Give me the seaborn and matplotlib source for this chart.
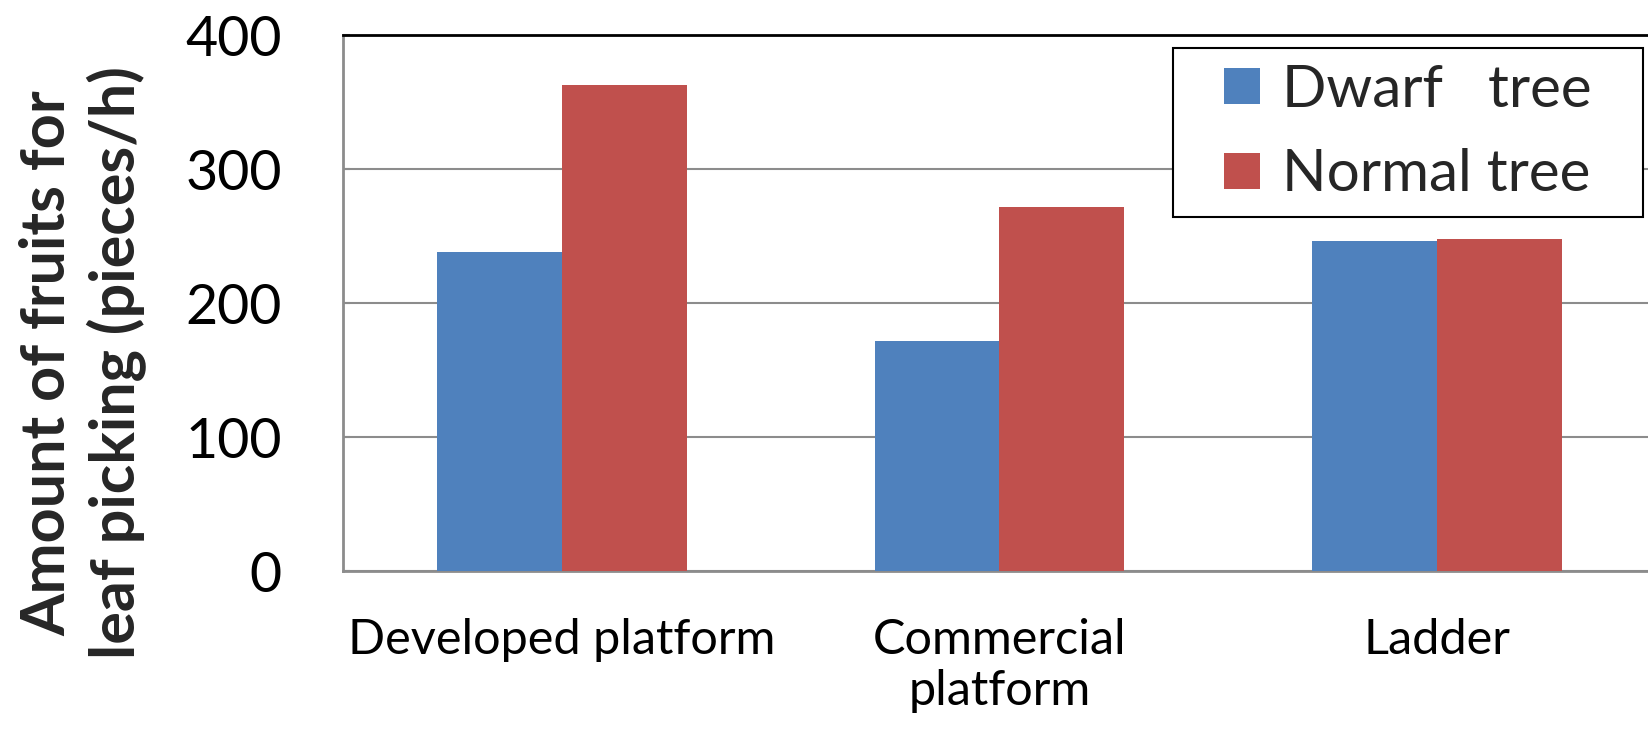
import matplotlib
matplotlib.use("Agg")
import matplotlib.pyplot as plt
from matplotlib.lines import Line2D
import seaborn as sns
import pandas as pd

# Picking rate by working method and tree type
categories = ["Developed platform", "Commercial\nplatform", "Ladder"]
series_names = ["Dwarf   tree", "Normal tree"]
dwarf_values = [238, 172, 246]
normal_values = [363, 272, 248]
y_ticks = [0, 100, 200, 300, 400]
y_label = "Amount of fruits for\nleaf picking (pieces/h)"

colors = ["#4F81BD", "#C0504D"]
grid_color = "#8C8C8C"

df = pd.DataFrame({
    "category": categories * 2,
    "tree": [series_names[0]] * 3 + [series_names[1]] * 3,
    "value": dwarf_values + normal_values,
})

sns.set_theme(style="white")
plt.rcParams["font.family"] = ["Lato", "DejaVu Sans"]

fig = plt.figure(figsize=(16.49, 7.29), dpi=100)
ax = fig.add_axes([0.208, 0.2167, 0.7962, 0.7352])

sns.barplot(data=df, x="category", y="value", hue="tree", order=categories,
            hue_order=series_names, palette=colors, width=0.571, gap=0,
            saturation=1, linewidth=0, ax=ax, zorder=3, legend=False)

ax.set_xlim(-0.5, 2.5)
ax.set_ylim(0, 400)
ax.set_yticks(y_ticks)
ax.set_yticklabels([str(v) for v in y_ticks])
ax.set_xlabel("")
ax.set_ylabel("")

# horizontal gridlines
ax.yaxis.grid(True, color=grid_color, linewidth=1.5, zorder=0)
ax.set_axisbelow(True)

# category boundary ticks on the x axis
ax.set_xticks([0, 1, 2])
ax.set_xticklabels(categories, fontsize=35, color="black", linespacing=1.2)
ax.set_xticks([0.5, 1.5], minor=True)
ax.tick_params(axis="x", which="major", length=0, pad=34)
ax.tick_params(axis="x", which="minor", direction="in", length=11,
               width=1.3, color=grid_color)
ax.tick_params(axis="y", which="major", direction="in", length=5, width=1.5,
               color=grid_color, labelsize=40, labelcolor="black", pad=44,
               left=True)

for side in ["left", "bottom"]:
    ax.spines[side].set_color(grid_color)
    ax.spines[side].set_linewidth(2)
ax.spines["top"].set_color("black")
ax.spines["top"].set_linewidth(2)
ax.spines["right"].set_visible(False)

# legend with square swatches
handles = [Line2D([], [], marker="s", linestyle="none", markersize=25.5,
                  markerfacecolor=c, markeredgewidth=0, label=n)
           for c, n in zip(colors, series_names)]
leg = ax.legend(handles=handles, loc="upper left",
                bbox_to_anchor=(0.6321, 0.9757, 0.358, 0), mode="expand",
                fontsize=42, frameon=True, fancybox=False, shadow=False,
                handlelength=1.84, handletextpad=-0.24,
                labelspacing=0.54, borderpad=0.27, borderaxespad=0)
leg.get_frame().set_edgecolor("black")
leg.get_frame().set_linewidth(1.5)
leg.get_frame().set_facecolor("white")
leg.get_frame().set_alpha(1)

fig.text(0.0503, 0.502, y_label, rotation=90, ha="center", va="center",
         fontsize=44, fontweight="bold", linespacing=1.25, multialignment="center")

fig.savefig("out.png", dpi=100, facecolor="white")
